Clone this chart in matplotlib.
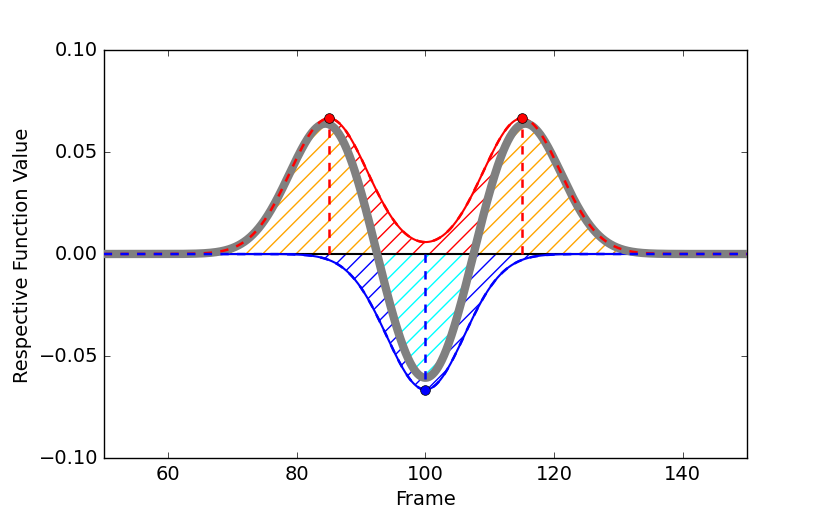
import numpy as np
import matplotlib
matplotlib.use("Agg")
import matplotlib.pyplot as plt

plt.style.use("classic")
plt.rcParams["figure.facecolor"] = "white"
plt.rcParams["savefig.facecolor"] = "white"
plt.rcParams["hatch.linewidth"] = 1.0
plt.rcParams["font.family"] = ["DejaVu Sans"]
plt.rcParams["font.size"] = 14
plt.rcParams["xtick.labelsize"] = 14
plt.rcParams["ytick.labelsize"] = 14
plt.rcParams["axes.labelsize"] = 14

# data: Gaussian components (frame centers, width, sign)
frame_start, frame_end = 50, 150
pos_centers = [85, 115]
neg_centers = [100]
sigma = 6.0
xticks = [60, 80, 100, 120, 140]
yticks = [-0.10, -0.05, 0.00, 0.05, 0.10]

x = np.linspace(frame_start, frame_end, 2001)


def gauss(c):
    return np.exp(-(x - c) ** 2 / (2 * sigma ** 2)) / (np.sqrt(2 * np.pi) * sigma)


peak = 1.0 / (np.sqrt(2 * np.pi) * sigma)
red = sum(gauss(c) for c in pos_centers)
blue = -sum(gauss(c) for c in neg_centers)
total = red + blue

fig = plt.figure(figsize=(8.3, 5.1), dpi=100)
ax = fig.add_subplot(111)

pos_part = np.maximum(total, 0)
neg_part = np.minimum(total, 0)

ax.fill_between(x, pos_part, red, where=red > pos_part, facecolor="none",
                edgecolor="red", hatch="//", linewidth=0, zorder=1)
ax.fill_between(x, 0, pos_part, facecolor="none", edgecolor="orange",
                hatch="//", linewidth=0, zorder=1)
ax.fill_between(x, neg_part, 0, facecolor="none", edgecolor="cyan",
                hatch="//", linewidth=0, zorder=1)
ax.fill_between(x, blue, neg_part, where=blue < neg_part, facecolor="none",
                edgecolor="blue", hatch="//", linewidth=0, zorder=1)

ax.axhline(0, color="black", linewidth=1.5, zorder=2)
ax.plot(x, red, color="red", linewidth=1.5, zorder=3)
ax.plot(x, blue, color="blue", linewidth=1.5, zorder=3)
ax.plot(x, total, color="gray", linewidth=6, zorder=4)
ax.plot(x, red, color="red", linewidth=1.8, linestyle="--", zorder=5)
ax.plot(x, blue, color="blue", linewidth=1.8, linestyle="--", zorder=5)

for c in pos_centers:
    ax.plot([c, c], [0, peak], color="red", linewidth=1.8, linestyle="--", zorder=5)
    ax.plot([c], [peak], "o", color="red", markeredgecolor="black",
            markersize=7, zorder=6)
for c in neg_centers:
    ax.plot([c, c], [0, -peak], color="blue", linewidth=1.8, linestyle="--", zorder=5)
    ax.plot([c], [-peak], "o", color="blue", markeredgecolor="black",
            markersize=7, zorder=6)

ax.set_xlim(frame_start, frame_end)
ax.set_ylim(-0.1, 0.1)
ax.set_xticks(xticks)
ax.set_yticks(yticks)
ax.set_xlabel("Frame")
ax.set_ylabel("Respective Function Value")

fig.savefig("out.png", dpi=100)
